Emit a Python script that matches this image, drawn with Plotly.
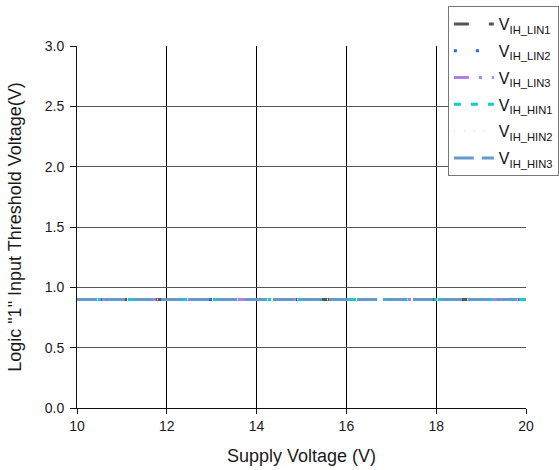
import plotly.graph_objects as go

supply_v = [10, 12, 14, 16, 18, 20]
vih_lin1 = [0.9, 0.9, 0.9, 0.9, 0.9, 0.9]
vih_lin2 = [0.9, 0.9, 0.9, 0.9, 0.9, 0.9]
vih_lin3 = [0.9, 0.9, 0.9, 0.9, 0.9, 0.9]
vih_hin1 = [0.9, 0.9, 0.9, 0.9, 0.9, 0.9]
vih_hin2 = [0.9, 0.9, 0.9, 0.9, 0.9, 0.9]
vih_hin3 = [0.9, 0.9, 0.9, 0.9, 0.9, 0.9]

x_ticks = [10, 12, 14, 16, 18, 20]
x_grid = [12, 14, 16, 18]
y_ticks = [0, 0.5, 1.0, 1.5, 2.0, 2.5, 3.0]
y_grid = [0.5, 1.0, 1.5, 2.0, 2.5]

series = [
    ("V<sub>IH_LIN1</sub>", vih_lin1, "#555555", "15px,20px", 3),
    ("V<sub>IH_LIN2</sub>", vih_lin2, "#1f6fd8", "3px,19px", 3),
    ("V<sub>IH_LIN3</sub>", vih_lin3, "#b07fe6", "15px,10px,3px,10px,3px,10px", 3),
    ("V<sub>IH_HIN1</sub>", vih_hin1, "#17c9c9", "7px,10px", 3),
    ("V<sub>IH_HIN2</sub>", vih_hin2, "#f0e6d2", "1px,9px", 2),
    ("V<sub>IH_HIN3</sub>", vih_hin3, "#6699cc", "20px,8px", 3),
]

fig = go.Figure()
for i, (name, ys, color, dash, w) in enumerate(series):
    fig.add_trace(go.Scatter(x=supply_v, y=ys, mode="lines", name=name,
                             legendgroup="g%d" % i,
                             line=dict(color=color, dash=dash, width=w)))

font_fam = "Liberation Sans, Arial, sans-serif"
tick_font = dict(family=font_fam, size=14, color="#1a1a1a")
fig.update_layout(
    width=559, height=470,
    margin=dict(l=77, r=33, t=46, b=62, autoexpand=False),
    plot_bgcolor="white", paper_bgcolor="white",
    font=dict(family=font_fam, size=14, color="#1a1a1a"),
    showlegend=True,
    legend=dict(x=0.826, y=1.1105, xanchor="left", yanchor="top",
                bordercolor="#777", borderwidth=1, bgcolor="white",
                font=dict(family=font_fam, size=16, color="#111"), itemwidth=40,
                tracegroupgap=3),
    xaxis=dict(range=[10, 20], tickvals=x_ticks,
               showgrid=False, automargin=False,
               minor=dict(tickvals=x_grid, showgrid=True, gridcolor="#000",
                          gridwidth=1, ticks=""),
               showline=True, linecolor="#111", linewidth=1,
               ticks="outside", ticklen=5, tickcolor="#111",
               zeroline=False, tickfont=tick_font,
               title=dict(text="Supply Voltage (V)", font=dict(size=18), standoff=16)),
    yaxis=dict(range=[0, 3], tickvals=y_ticks,
               tickformat=".1f",
               showgrid=False, automargin=False,
               minor=dict(tickvals=y_grid, showgrid=True, gridcolor="#555",
                          gridwidth=1, ticks=""),
               showline=True, linecolor="#111", linewidth=1,
               ticks="outside", ticklen=6, tickcolor="#111",
               zeroline=False, tickfont=tick_font, ticklabelstandoff=3,
               title=dict(text='Logic "1" Input Threshold Voltage(V)', font=dict(size=18), standoff=18)),
)
fig.write_html("out.html", config={"displayModeBar": False},
               post_script="document.body.style.margin='0';document.body.style.overflow='hidden';")
